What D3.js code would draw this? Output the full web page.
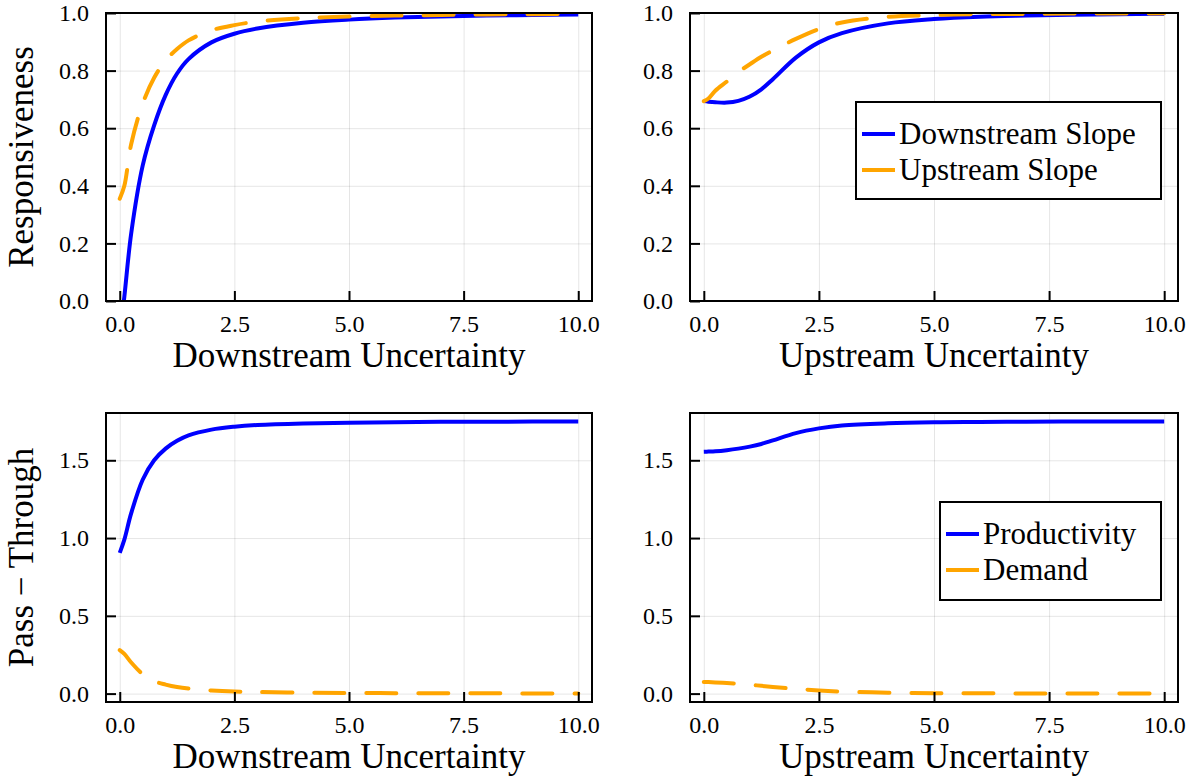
<!DOCTYPE html>
<html>
<head>
<meta charset="utf-8">
<script src="https://cdn.jsdelivr.net/npm/d3@7"></script>
<style>
body { margin: 0; background: #fff; }
svg { display: block; font-family: "Liberation Serif", "Times New Roman", serif; }
</style>
</head>
<body>
<div id="chart"></div>
<script>
const WIDTH = 1193, HEIGHT = 776;

// shared uncertainty grid (x values) for every series
const uncertainty = [0, 0.1, 0.25, 0.5, 0.75, 1, 1.25, 1.5, 2, 2.5, 3, 4, 5, 6, 7, 8, 9, 10];

const X_TICKS = [0, 2.5, 5, 7.5, 10];
const RESP_TICKS = [0, 0.2, 0.4, 0.6, 0.8, 1.0];
const PASS_TICKS = [0, 0.5, 1.0, 1.5];

// responsiveness vs downstream uncertainty
const downSlopeVsDown = [-0.12, 0.015, 0.235, 0.47, 0.61, 0.715, 0.79, 0.84, 0.898, 0.928, 0.946, 0.966, 0.977, 0.984, 0.988, 0.991, 0.993, 0.995];
const upSlopeVsDown   = [0.355, 0.4, 0.545, 0.685, 0.775, 0.835, 0.875, 0.905, 0.94, 0.958, 0.97, 0.982, 0.988, 0.991, 0.993, 0.995, 0.996, 0.997];
// responsiveness vs upstream uncertainty
const downSlopeVsUp = [0.694, 0.692, 0.69, 0.689, 0.695, 0.71, 0.735, 0.77, 0.845, 0.898, 0.93, 0.964, 0.979, 0.987, 0.991, 0.994, 0.996, 0.997];
const upSlopeVsUp   = [0.694, 0.703, 0.73, 0.762, 0.795, 0.822, 0.848, 0.87, 0.91, 0.944, 0.967, 0.987, 0.993, 0.996, 0.997, 0.998, 0.998, 0.999];
// pass-through vs downstream uncertainty
const prodVsDown   = [0.905, 0.99, 1.16, 1.375, 1.5, 1.575, 1.625, 1.66, 1.697, 1.716, 1.727, 1.737, 1.742, 1.745, 1.747, 1.748, 1.749, 1.75];
const demandVsDown = [0.28, 0.255, 0.2, 0.125, 0.08, 0.058, 0.042, 0.032, 0.02, 0.013, 0.01, 0.006, 0.004, 0.003, 0.002, 0.002, 0.001, 0.001];
// pass-through vs upstream uncertainty
const prodVsUp   = [1.555, 1.556, 1.558, 1.565, 1.575, 1.588, 1.605, 1.628, 1.675, 1.705, 1.724, 1.738, 1.744, 1.746, 1.748, 1.749, 1.749, 1.75];
const demandVsUp = [0.075, 0.074, 0.072, 0.068, 0.063, 0.057, 0.05, 0.043, 0.031, 0.02, 0.013, 0.006, 0.003, 0.002, 0.001, 0.001, 0, 0];

const BLUE = "#0000ff", ORANGE = "#ffa500";

const panels = [
  { left: 106, top: 13, right: 592, bottom: 301, yDomain: [0, 1], yTicks: RESP_TICKS,
    xLabel: "Downstream Uncertainty", yLabel: "Responsiveness",
    series: [downSlopeVsDown, upSlopeVsDown], legend: null },
  { left: 690, top: 13, right: 1178, bottom: 301, yDomain: [0, 1], yTicks: RESP_TICKS,
    xLabel: "Upstream Uncertainty", yLabel: null,
    series: [downSlopeVsUp, upSlopeVsUp],
    legend: { x: 856, y: 102, w: 305, h: 97, names: ["Downstream Slope", "Upstream Slope"] } },
  { left: 106, top: 413, right: 592, bottom: 702, yDomain: [-0.054, 1.804], yTicks: PASS_TICKS,
    xLabel: "Downstream Uncertainty", yLabel: "Pass \u2212 Through",
    series: [prodVsDown, demandVsDown], legend: null },
  { left: 690, top: 413, right: 1178, bottom: 702, yDomain: [-0.054, 1.804], yTicks: PASS_TICKS,
    xLabel: "Upstream Uncertainty", yLabel: null,
    series: [prodVsUp, demandVsUp],
    legend: { x: 940, y: 502, w: 221, h: 98, names: ["Productivity", "Demand"] } }
];

const svg = d3.select("#chart").append("svg")
  .attr("width", WIDTH)
  .attr("height", HEIGHT);

const styles = [
  { color: BLUE, dash: null },
  { color: ORANGE, dash: "30,22" }
];

panels.forEach(function(p, i) {
  const x = d3.scaleLinear().domain([-0.3, 10.3]).range([p.left, p.right]);
  const y = d3.scaleLinear().domain(p.yDomain).range([p.bottom, p.top]);
  const g = svg.append("g");

  // grid
  g.append("g")
    .attr("transform", "translate(0," + p.bottom + ")")
    .call(d3.axisBottom(x).tickValues(X_TICKS).tickSize(-(p.bottom - p.top)).tickFormat(""))
    .call(s => s.select(".domain").remove())
    .selectAll("line").attr("stroke", "#000").attr("stroke-opacity", 0.1);
  g.append("g")
    .attr("transform", "translate(" + p.left + ",0)")
    .call(d3.axisLeft(y).tickValues(p.yTicks).tickSize(-(p.right - p.left)).tickFormat(""))
    .call(s => s.select(".domain").remove())
    .selectAll("line").attr("stroke", "#000").attr("stroke-opacity", 0.1);

  // clip
  svg.append("clipPath").attr("id", "clip" + i)
    .append("rect")
    .attr("x", p.left).attr("y", p.top)
    .attr("width", p.right - p.left).attr("height", p.bottom - p.top);

  const line = d3.line()
    .x((d, k) => x(uncertainty[k]))
    .y(d => y(d))
    .curve(d3.curveCatmullRom.alpha(0.5));

  p.series.forEach(function(vals, k) {
    g.append("path")
      .datum(vals)
      .attr("clip-path", "url(#clip" + i + ")")
      .attr("fill", "none")
      .attr("stroke", styles[k].color)
      .attr("stroke-width", 4)
      .attr("stroke-linejoin", "round")
      .attr("stroke-linecap", styles[k].dash ? "round" : "butt")
      .attr("stroke-dasharray", styles[k].dash)
      .attr("d", line);
  });

  // frame
  g.append("rect")
    .attr("x", p.left).attr("y", p.top)
    .attr("width", p.right - p.left).attr("height", p.bottom - p.top)
    .attr("fill", "none").attr("stroke", "#000").attr("stroke-width", 2);

  // axes with inward ticks
  const xAxis = g.append("g")
    .attr("transform", "translate(0," + p.bottom + ")")
    .call(d3.axisBottom(x).tickValues(X_TICKS).tickSize(-10).tickPadding(14).tickFormat(d3.format(".1f")));
  const yAxis = g.append("g")
    .attr("transform", "translate(" + p.left + ",0)")
    .call(d3.axisLeft(y).tickValues(p.yTicks).tickSize(-10).tickPadding(17).tickFormat(d3.format(".1f")));
  [xAxis, yAxis].forEach(function(a) {
    a.attr("font-family", null).attr("font-size", 24);
    a.select(".domain").remove();
    a.selectAll("line").attr("stroke", "#000").attr("stroke-width", 2);
    a.selectAll("text").attr("fill", "#000");
  });

  // axis labels
  g.append("text")
    .attr("x", (p.left + p.right) / 2)
    .attr("y", p.bottom + 66)
    .attr("text-anchor", "middle")
    .attr("font-size", 35)
    .text(p.xLabel);
  if (p.yLabel) {
    g.append("text")
      .attr("transform", "translate(33," + (p.top + p.bottom) / 2 + ") rotate(-90)")
      .attr("text-anchor", "middle")
      .attr("font-size", 35)
      .text(p.yLabel);
  }

  // legend
  if (p.legend) {
    const L = p.legend;
    const lg = g.append("g");
    lg.append("rect")
      .attr("x", L.x).attr("y", L.y).attr("width", L.w).attr("height", L.h)
      .attr("fill", "#fff").attr("stroke", "#000").attr("stroke-width", 2);
    L.names.forEach(function(name, k) {
      const cy = L.y + 32 + k * 36;
      lg.append("line")
        .attr("x1", L.x + 6).attr("x2", L.x + 39)
        .attr("y1", cy).attr("y2", cy)
        .attr("stroke", styles[k].color).attr("stroke-width", 4);
      lg.append("text")
        .attr("x", L.x + 43)
        .attr("y", cy + 10)
        .attr("font-size", 31)
        .text(name);
    });
  }
});
</script>
</body>
</html>
